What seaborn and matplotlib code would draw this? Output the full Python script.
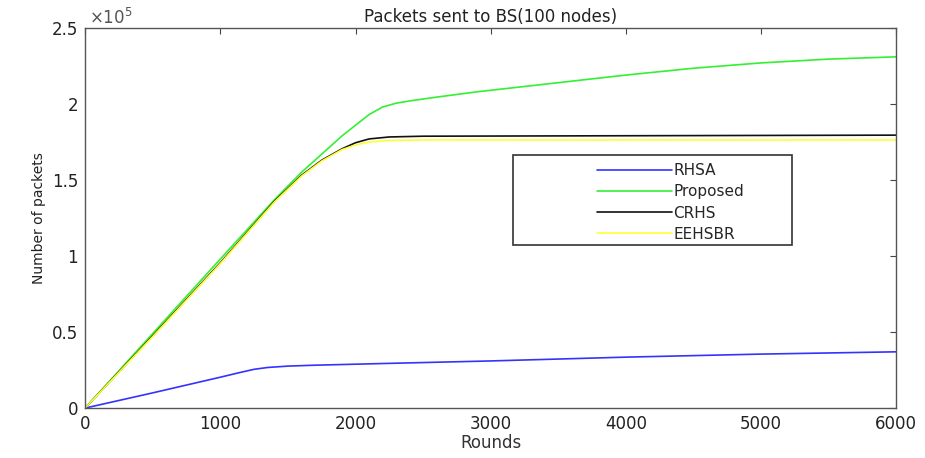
import numpy as np
import pandas as pd
import seaborn as sns
import matplotlib
matplotlib.use("Agg")
import matplotlib.pyplot as plt
from matplotlib.ticker import FuncFormatter
from matplotlib.patches import Rectangle
from matplotlib.lines import Line2D

rounds_rhsa = [0, 500, 1000, 1150, 1250, 1350, 1500, 1700, 2200, 3000, 4000, 5000, 6000]
rhsa = [0, 10000, 20300, 23500, 25500, 26700, 27600, 28200, 29300, 31000, 33500, 35500, 37000]

rounds_prop = [0, 500, 1000, 1400, 1600, 1700, 1800, 1900, 2000, 2100, 2200, 2300, 2400, 2600, 2900, 3500, 4000, 4500, 5000, 5500, 6000]
proposed = [0, 49000, 98000, 137000, 155000, 163000, 171000, 179000, 186000, 193000, 198000, 200500, 202000, 204500, 208000, 214000, 219000, 223500, 227000, 229500, 231000]

rounds_crhs = [0, 500, 1000, 1400, 1600, 1750, 1900, 2000, 2100, 2250, 2500, 6000]
crhs = [0, 47500, 95500, 136000, 153000, 163000, 170500, 174500, 177000, 178300, 178800, 179500]

rounds_ee = [0, 500, 1000, 1400, 1600, 1750, 1900, 2000, 2100, 2250, 2500, 6000]
eehsbr = [0, 47000, 95000, 135500, 152500, 162500, 170000, 173000, 175000, 176000, 176300, 176300]

names = ["RHSA", "Proposed", "CRHS", "EEHSBR"]
colors = ["#3333ff", "#33f033", "#111111", "#ffff33"]

frames = []
for n, x, y in zip(names, [rounds_rhsa, rounds_prop, rounds_crhs, rounds_ee], [rhsa, proposed, crhs, eehsbr]):
    frames.append(pd.DataFrame({"Rounds": x, "Packets": y, "Method": n}))
df = pd.concat(frames, ignore_index=True)

sns.set_style("white")
plt.rcParams["font.family"] = ["DejaVu Sans"]

fig = plt.figure(figsize=(9.25, 4.58), dpi=100)
ax = fig.add_axes([0.092, 0.109, 0.877, 0.83])
sns.lineplot(data=df, x="Rounds", y="Packets", hue="Method", hue_order=names,
             palette=colors, linewidth=1.2, ax=ax, legend=False, estimator=None)

ax.set_xlim(0, 6000)
ax.set_ylim(0, 250000)
ax.set_xticks(np.arange(0, 6001, 1000))
ax.set_yticks(np.arange(0, 250001, 50000))
ax.yaxis.set_major_formatter(FuncFormatter(lambda v, p: f"{v/1e5:g}"))
ax.tick_params(direction="in", top=True, right=True, length=4, width=0.8,
               color="#444444", labelsize=12, labelcolor="#222222", pad=5)
for s in ax.spines.values():
    s.set_color("#555555")
    s.set_linewidth(1.0)
ax.set_xlabel("Rounds", fontsize=12, color="#333333", labelpad=1)
ax.set_ylabel("Number of packets", fontsize=10, color="#222222", labelpad=4)
ax.set_title("Packets sent to BS(100 nodes)", fontsize=12, color="#222222", pad=4)
ax.text(0.005, 1.0, r"$\times 10^5$", transform=ax.transAxes, fontsize=12,
        color="#555555", ha="left", va="bottom")

handles = [Line2D([], [], color=c, lw=1.2) for c in colors]
ax.add_patch(Rectangle((0.528, 0.429), 0.344, 0.237, transform=ax.transAxes,
                       facecolor="white", edgecolor="#333333", lw=1.2, zorder=5))
leg = ax.legend(handles, names, loc="upper left", bbox_to_anchor=(0.614, 0.68),
                frameon=False, handlelength=4.9, handletextpad=0.1,
                labelspacing=0.4, fontsize=11)
leg.set_zorder(6)

fig.savefig("out.png", dpi=100, facecolor="white")
